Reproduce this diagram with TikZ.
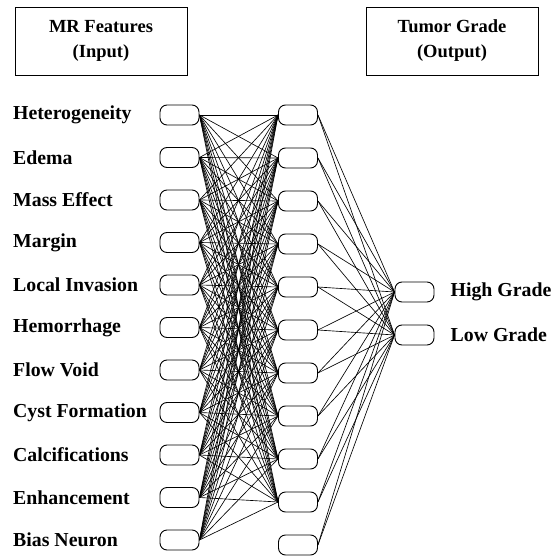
\documentclass[tikz,border=0pt]{standalone}
\usepackage{fontspec}
\setmainfont{Liberation Serif}
\usetikzlibrary{positioning}
\tikzset{
  neuron/.style={draw, line width=0.9pt, rounded corners=7pt, minimum width=39pt, minimum height=20pt, inner sep=0pt},
  feature/.style={anchor=west, inner sep=0pt, font=\fontsize{19.8}{22}\selectfont\bfseries},
  header/.style={draw, line width=0.9pt, minimum width=172pt, minimum height=68pt, align=center, font=\fontsize{18.5}{25}\selectfont\bfseries},
  link/.style={line width=0.65pt}
}

\begin{document}
\begin{tikzpicture}[x=1pt, y=-1pt]
\useasboundingbox (0,0) rectangle (559,556);
% headers
\node[header] (inbox) at (101,41) {MR Features\\(Input)};
\node[header] (outbox) at (452,41) {Tumor Grade\\(Output)};
% input layer
\foreach \name [count=\i from 0] in {Heterogeneity, Edema, Mass Effect, Margin, Local Invasion, Hemorrhage, Flow Void, Cyst Formation, Calcifications, Enhancement, Bias Neuron} {
  \node[neuron] (in\i) at (179.5, 115+42.5*\i) {};
  \node[feature] (lab\i) at (13, 115+42.5*\i) {\name};
}
% hidden layer
\foreach \j in {0,...,10}
  \node[neuron] (hid\j) at (298, 115+43*\j) {};
% output layer
\node[neuron] (high) at (414.5,292) {};
\node[neuron] (low) at (414.5,335) {};
\node[feature, right=16pt of high] (highlab) {High Grade};
\node[feature, right=16pt of low] (lowlab) {Low Grade};
% weights
\foreach \i in {0,...,10}
  \foreach \j in {0,...,9}
    \draw[link] (in\i.east) -- (hid\j.west);
\foreach \j in {0,...,10} {
  \draw[link] (hid\j.east) -- (high.west);
  \draw[link] (hid\j.east) -- (low.west);
}
\end{tikzpicture}
\end{document}
